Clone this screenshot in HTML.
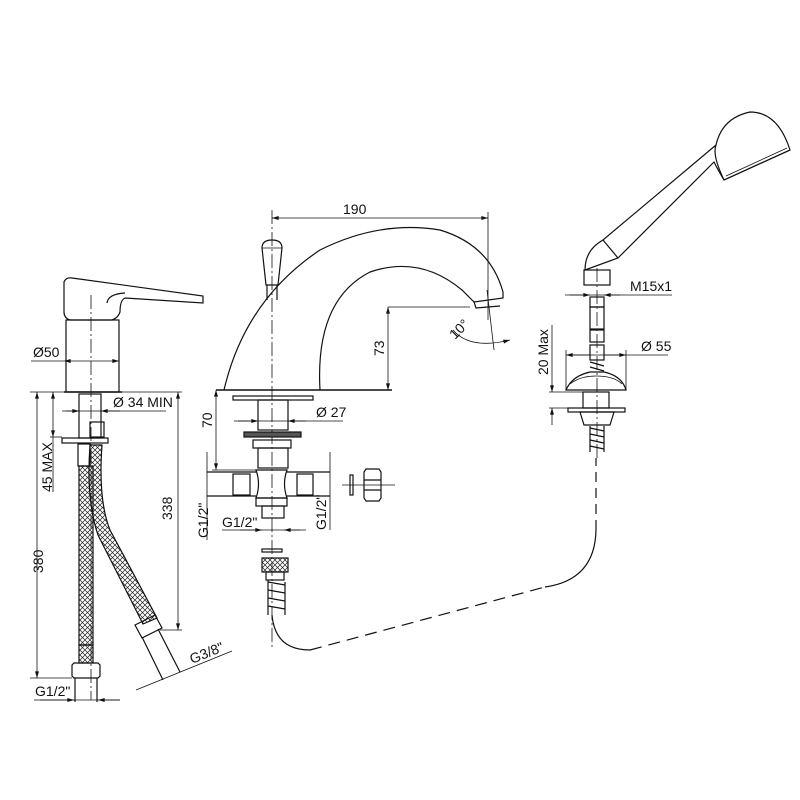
<!DOCTYPE html>
<html><head><meta charset="utf-8"><style>
html,body{margin:0;padding:0;background:#fff;width:800px;height:800px;overflow:hidden}
svg text{font-family:"Liberation Sans",sans-serif;font-size:14px;fill:#111;stroke:none}
</style></head><body>
<svg width="800" height="800" viewBox="0 0 800 800" xmlns="http://www.w3.org/2000/svg" fill="none" stroke="#111" stroke-width="1.2">
<defs>
<marker id="a" viewBox="0 0 10 6" refX="10" refY="3" markerWidth="9" markerHeight="5" orient="auto-start-reverse"><path d="M0,0L10,3L0,6z" fill="#111" stroke="none"/></marker>
<pattern id="mesh" width="5" height="5" patternUnits="userSpaceOnUse"><path d="M0,0L5,5M5,0L0,5" stroke="#222" stroke-width="0.7"/></pattern>
</defs>

<!-- LEFT MIXER -->
<path d="M64,282 Q66,277 72,278 L203,296 L203,303 L125,298 Q120,300 120,312 Q118,318 112,320 L70,320 Q64,318 64,312 Z"/>
<path d="M107,303 Q108,294 125,293"/>
<rect x="66" y="320" width="53" height="72"/>
<line x1="64" y1="392" x2="122" y2="392" stroke-width="1.5"/>
<line x1="91" y1="295" x2="91" y2="700" stroke-width="0.8" stroke-dasharray="14,3,2,3"/>
<line x1="31" y1="361" x2="64" y2="361" stroke-width="0.8"/>
<line x1="64" y1="361" x2="119" y2="361" stroke-width="0.8" marker-start="url(#a)" marker-end="url(#a)"/>
<text x="33" y="357">Ø50</text>
<rect x="79" y="394" width="22" height="44" />
<rect x="90" y="422" width="14" height="15"/>
<rect x="62" y="438" width="46" height="5"/>
<rect x="78" y="444" width="12" height="22"/>
<line x1="62" y1="411" x2="166" y2="411" stroke-width="0.8"/>
<line x1="66" y1="411" x2="79" y2="411" marker-end="url(#a)" stroke-width="0.8"/>
<line x1="120" y1="411" x2="101" y2="411" marker-end="url(#a)" stroke-width="0.8"/>
<text x="113" y="407">Ø 34 MIN</text>
<!-- hoses -->
<path d="M79,466 L79,645 L93,645 L93,466 Z" fill="url(#mesh)"/>
<path d="M90,445 L102,445 Q98,500 110,530 L157,618 L143,624 L98,535 Q86,500 90,445 Z" fill="url(#mesh)"/>
<rect x="79" y="645" width="14" height="18" fill="url(#mesh)"/>
<path d="M72,665 L74,663 L98,663 L100,665 L100,676 L98,678 L74,678 L72,676 Z"/>
<line x1="75" y1="678" x2="75" y2="702"/><line x1="97" y1="678" x2="97" y2="702"/>
<path d="M135,625 L155,615 L162,628 L142,638 Z"/>
<line x1="142" y1="637" x2="163" y2="680"/><line x1="158" y1="629" x2="180" y2="672"/>
<!-- dims -->
<line x1="30" y1="392" x2="64" y2="392" stroke-width="0.8"/>
<line x1="30" y1="678" x2="72" y2="678" stroke-width="0.8"/>
<line x1="37" y1="392" x2="37" y2="678" stroke-width="0.8" marker-start="url(#a)" marker-end="url(#a)"/>
<text transform="translate(43,573) rotate(-90)" font-size="15">380</text>
<line x1="53" y1="392" x2="53" y2="437" stroke-width="0.8" marker-start="url(#a)" marker-end="url(#a)"/>
<line x1="53" y1="437" x2="53" y2="492" stroke-width="0.8"/>
<line x1="50" y1="437" x2="62" y2="437" stroke-width="0.8"/>
<text transform="translate(52,492) rotate(-90)">45 MAX</text>
<line x1="122" y1="392" x2="182" y2="392" stroke-width="0.8"/>
<line x1="160" y1="630" x2="182" y2="630" stroke-width="0.8"/>
<line x1="178" y1="392" x2="178" y2="630" stroke-width="0.8" marker-start="url(#a)" marker-end="url(#a)"/>
<text transform="translate(172,520) rotate(-90)" font-size="15">338</text>
<line x1="34" y1="700" x2="120" y2="700" stroke-width="0.8"/>
<line x1="40" y1="700" x2="74" y2="700" marker-end="url(#a)" stroke-width="0.8"/>
<line x1="120" y1="700" x2="98" y2="700" marker-end="url(#a)" stroke-width="0.8"/>
<text x="35" y="696">G1/2"</text>
<line x1="136" y1="690" x2="232" y2="651" stroke-width="0.8"/>
<text transform="translate(192,664) rotate(-22)">G3/8"</text>

<!-- CENTER FAUCET -->
<line x1="272" y1="210" x2="272" y2="650" stroke-width="0.8" stroke-dasharray="14,3,2,3"/>
<line x1="272" y1="218" x2="488" y2="218" stroke-width="0.8" marker-start="url(#a)" marker-end="url(#a)"/>
<line x1="488" y1="212" x2="488" y2="320" stroke-width="0.8"/>
<text x="343" y="214">190</text>
<path d="M262,248 Q262,240 272,240 Q282,240 282,248 L278,285 L266,285 Z"/>
<line x1="262" y1="248" x2="282" y2="248" stroke-width="0.8"/>
<path d="M267,285 L267,300 M277,285 L277,300"/>
<path d="M224,390 Q245,300 320,250 Q380,220 440,230 Q490,245 503,292 L503,298 L474,302 L476,308 L500,306"/>
<path d="M320,390 Q315,300 370,272 Q420,255 462,290 Q470,298 474,302"/>
<line x1="216" y1="390" x2="392" y2="390" stroke-width="1.4"/>
<line x1="388" y1="307" x2="470" y2="307" stroke-width="0.8"/>
<line x1="388" y1="307" x2="388" y2="390" stroke-width="0.8" marker-start="url(#a)" marker-end="url(#a)"/>
<text transform="translate(384,356) rotate(-90)">73</text>
<line x1="487" y1="290" x2="494" y2="350" stroke-width="0.8"/>
<path d="M453,330 Q470,350 510,340" stroke-width="0.8" marker-end="url(#a)"/>
<text transform="translate(455,340) rotate(-45)" font-size="13">10°</text>
<!-- under-deck -->
<rect x="233" y="396" width="80" height="4"/>
<rect x="258" y="400" width="30" height="30"/>
<line x1="234" y1="421" x2="343" y2="421" stroke-width="0.8"/>
<line x1="238" y1="421" x2="258" y2="421" marker-end="url(#a)" stroke-width="0.8"/>
<line x1="306" y1="421" x2="288" y2="421" marker-end="url(#a)" stroke-width="0.8"/>
<text x="316" y="417">Ø 27</text>
<rect x="244" y="432" width="57" height="5" fill="#555"/>
<rect x="253" y="440" width="38" height="8"/>
<rect x="258" y="448" width="30" height="20"/>
<path d="M256,470 L287,470 Q282,484 287,498 L256,498 Q261,484 256,470 Z"/>
<line x1="207" y1="472" x2="256" y2="472"/><line x1="207" y1="496" x2="256" y2="496"/>
<rect x="233" y="474" width="17" height="21"/>
<line x1="287" y1="472" x2="330" y2="472"/><line x1="287" y1="496" x2="330" y2="496"/>
<rect x="297" y="474" width="16" height="21"/>
<rect x="256" y="498" width="31" height="8"/>
<rect x="262" y="506" width="22" height="12"/>
<line x1="216" y1="390" x2="216" y2="470" stroke-width="0.8" marker-start="url(#a)" marker-end="url(#a)"/>
<line x1="212" y1="470" x2="256" y2="470" stroke-width="0.8"/>
<text transform="translate(212,428) rotate(-90)">70</text>
<line x1="207" y1="452" x2="207" y2="540" stroke-width="0.8"/>
<line x1="330" y1="452" x2="330" y2="530" stroke-width="0.8"/>
<text transform="translate(208,538) rotate(-90)">G1/2"</text>
<text transform="translate(326,530) rotate(-90)">G1/2"</text>
<line x1="222" y1="530" x2="306" y2="530" stroke-width="0.8"/>
<line x1="240" y1="530" x2="262" y2="530" marker-end="url(#a)" stroke-width="0.8"/>
<line x1="300" y1="530" x2="284" y2="530" marker-end="url(#a)" stroke-width="0.8"/>
<text x="222" y="527">G1/2"</text>
<rect x="262" y="549" width="20" height="3"/>
<rect x="262" y="558" width="26" height="14" fill="url(#mesh)"/>
<rect x="266" y="572" width="18" height="8"/>
<path d="M268,582 L285,585 M268,590 L285,593 M268,598 L285,601 M268,606 L285,609 M268,580 L268,615 M285,582 L285,615"/>
<!-- loose nut -->
<line x1="342" y1="485" x2="395" y2="485" stroke-width="0.8"/>
<rect x="350" y="475" width="3" height="20"/>
<path d="M364,472 L366,469 L379,469 L381,472 L381,498 L379,501 L366,501 L364,498 Z"/>
<line x1="364" y1="480" x2="381" y2="480"/><line x1="364" y1="490" x2="381" y2="490"/>
<!-- hose -->
<path d="M272,615 Q275,650 310,650"/>
<path d="M310,650 L545,587" stroke-dasharray="12,7"/>
<path d="M545,587 Q595,580 596,530"/>
<path d="M596,530 L596,458" stroke-dasharray="10,6"/>

<!-- HAND SHOWER -->
<path d="M585,270 Q585,250 603,240 L716,145 Q722,118 750,112 Q778,112 790,150 L724,180 Q718,170 714,162 L618,258 Z"/>
<line x1="603" y1="240" x2="618" y2="258"/>
<path d="M716,145 Q712,155 724,180"/>
<line x1="724" y1="180" x2="790" y2="150"/>
<line x1="726" y1="176" x2="787" y2="148" stroke-width="0.8"/>
<rect x="584" y="270" width="26" height="15"/>
<line x1="597" y1="268" x2="597" y2="460" stroke-width="0.8" stroke-dasharray="14,3,2,3"/>
<line x1="565" y1="295" x2="672" y2="295" stroke-width="0.8"/>
<line x1="570" y1="295" x2="590" y2="295" marker-end="url(#a)" stroke-width="0.8"/>
<line x1="620" y1="295" x2="604" y2="295" marker-end="url(#a)" stroke-width="0.8"/>
<text x="630" y="291">M15x1</text>
<rect x="590" y="297" width="14" height="10"/>
<rect x="590" y="307" width="14" height="22"/>
<rect x="590" y="330" width="14" height="12"/>
<rect x="590" y="345" width="14" height="15"/>
<line x1="566" y1="355" x2="668" y2="355" stroke-width="0.8"/>
<line x1="566" y1="355" x2="590" y2="355" marker-start="url(#a)" stroke-width="0.8"/>
<line x1="626" y1="355" x2="604" y2="355" marker-start="url(#a)" stroke-width="0.8"/>
<line x1="566" y1="350" x2="566" y2="390" stroke-width="0.8"/><line x1="626" y1="350" x2="626" y2="390" stroke-width="0.8"/>
<text x="641" y="351">Ø 55</text>
<path d="M590,362 L604,366 M590,367 L604,371"/>
<path d="M566,390 Q572,376 590,372 L604,372 Q622,376 626,390 Z"/>
<path d="M570,384 Q580,376 596,376 Q614,376 622,384" stroke-width="0.8"/>
<rect x="583" y="392" width="26" height="16"/>
<rect x="568" y="408" width="57" height="4"/>
<path d="M580,412 L614,412 L610,425 L584,425 Z"/>
<path d="M590,428 L604,431 M590,434 L604,437 M590,440 L604,443 M590,446 L604,449 M590,426 L590,452 M604,426 L604,452"/>
<line x1="549" y1="392" x2="583" y2="392" stroke-width="0.8"/>
<line x1="549" y1="408" x2="568" y2="408" stroke-width="0.8"/>
<line x1="552" y1="375" x2="552" y2="392" stroke-width="0.8" marker-end="url(#a)"/>
<line x1="552" y1="425" x2="552" y2="408" stroke-width="0.8" marker-end="url(#a)"/>
<line x1="552" y1="325" x2="552" y2="375" stroke-width="0.8"/>
<text transform="translate(548,375) rotate(-90)">20 Max</text>
</svg>
</body></html>
